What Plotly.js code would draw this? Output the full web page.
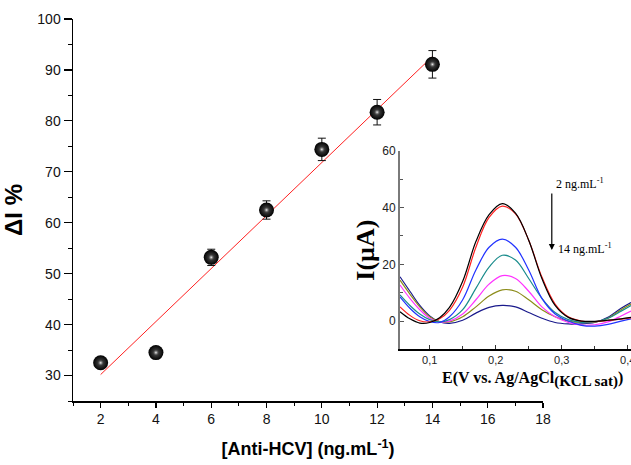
<!DOCTYPE html>
<html>
<head>
<meta charset="utf-8">
<script src="https://cdn.plot.ly/plotly-3.0.1.min.js"></script>
<style>html,body{margin:0;padding:0;background:#fff;}#chart{width:631px;height:465px;}</style>
</head>
<body>
<div id="chart"></div>
<script>
// Main calibration data
const concentration = [2, 4, 6, 8, 10, 12, 14];
const deltaI = [32.5, 34.5, 53.2, 62.5, 74.4, 81.7, 91.1];
const deltaIErr = [0.5, 0.5, 1.6, 1.8, 2.2, 2.5, 2.7];
const mainXTicks = [2, 4, 6, 8, 10, 12, 14, 16, 18];

// Inset DPV curves
const potential = [0.055, 0.07, 0.085, 0.1, 0.115, 0.13, 0.15, 0.17, 0.19, 0.21, 0.23, 0.25, 0.27, 0.29, 0.31, 0.33, 0.35, 0.37, 0.39, 0.405];
const curveBlack   = [3.3, 0.8, -0.7, -0.5, 1.2, 4.8, 14, 28, 37.5, 41.4, 38, 28.5, 15, 5.5, 1.3, 0, -0.1, 0.3, 0.8, 1.3];
const curveRed     = [5, 2, 0.1, -0.3, 0.8, 3.8, 12, 26, 36.5, 40.5, 37.8, 28.5, 15.5, 6, 1.5, 0, -0.2, 0.2, 0.7, 1.1];
const curveBlue    = [8.5, 4.5, 1.5, -0.2, -0.5, 1.5, 7.5, 18, 26, 28.9, 26, 18, 8, 2.5, 0, -1.5, -1.8, -1.2, 0, 0.8];
const curveTeal    = [9.2, 5.5, 2.5, 0.5, -0.3, 0.5, 4, 11.5, 19, 23.2, 21.5, 15, 8, 3, 0.5, -0.5, -0.3, 1, 3.5, 5.5];
const curveMagenta = [12.7, 8, 4, 1, -0.3, 0, 2.5, 7.5, 13, 16, 15, 10.5, 5, 1.5, -0.5, -1.4, -1.3, -0.3, 1.8, 3.5];
const curveOlive   = [14.4, 9.5, 5, 1.5, -0.2, -0.3, 1.5, 5, 8.8, 11, 10.5, 7.5, 4, 1.5, 0, -0.5, -0.4, 1, 4, 6];
const curveNavy    = [15.6, 10.5, 5.5, 1.8, -0.3, -0.8, 0.3, 2.8, 4.8, 5.5, 5, 3, 1, -0.5, -1, -1, -0.5, 1.3, 4.5, 6.5];
const insetXTicks = [0.1, 0.2, 0.3, 0.4];
const insetXTickText = ['0,1', '0,2', '0,3', '0,4'];
const insetYTicks = [0, 20, 40, 60];

// least-squares fit of the calibration points
const n = concentration.length;
const mx = concentration.reduce((a, b) => a + b, 0) / n;
const my = deltaI.reduce((a, b) => a + b, 0) / n;
let sxy = 0, sxx = 0;
for (let i = 0; i < n; i++) { sxy += (concentration[i] - mx) * (deltaI[i] - my); sxx += (concentration[i] - mx) ** 2; }
const slope = sxy / sxx, intercept = my - slope * mx;
const fitX = [concentration[0], concentration[n - 1]];
const fitY = fitX.map(x => intercept + slope * x);

const serif = 'Liberation Serif, Times New Roman, serif';
const sans = 'Liberation Sans, Arial, sans-serif';

const curves = [
  [curveNavy, '#1a1a8c'], [curveOlive, '#8c8c1a'], [curveMagenta, '#ff33ff'],
  [curveTeal, '#1a8c8c'], [curveBlue, '#2233ff'], [curveRed, '#ff2020'], [curveBlack, '#000000']
];

const traces = [
  {x: fitX, y: fitY, mode: 'lines', line: {color: '#ff2020', width: 1}, xaxis: 'x', yaxis: 'y', hoverinfo: 'skip'},
  {x: concentration, y: deltaI, mode: 'markers', xaxis: 'x', yaxis: 'y',
   error_y: {type: 'data', array: deltaIErr, visible: true, color: '#111', thickness: 1, width: 4},
   marker: {size: 15, color: '#000', gradient: {type: 'radial', color: '#555'}, line: {width: 0}}},
  {x: concentration, y: deltaI, mode: 'markers', xaxis: 'x', yaxis: 'y', hoverinfo: 'skip',
   marker: {size: 6, color: 'rgba(90,90,90,0)', gradient: {type: 'radial', color: '#f4f4f4'}, line: {width: 0}}}
];
curves.forEach(([vals, col]) => traces.push({
  x: potential, y: vals, mode: 'lines', line: {color: col, width: 1.2, shape: 'spline', smoothing: 1},
  xaxis: 'x2', yaxis: 'y2'
}));

const layout = {
  width: 631, height: 465,
  margin: {l: 73, r: 0, t: 19, b: 64},
  paper_bgcolor: '#fff', plot_bgcolor: 'rgba(0,0,0,0)',
  showlegend: false,
  xaxis: {
    domain: [0, 0.8423], range: [1, 18], tickvals: mainXTicks,
    showline: true, linecolor: '#000', linewidth: 1.5, zeroline: false, showgrid: false,
    ticks: 'outside', ticklen: 5, tickwidth: 1.2, tickcolor: '#000',
    minor: {dtick: 1, tick0: 0, ticks: 'outside', ticklen: 3, tickwidth: 1, tickcolor: '#000'},
    tickfont: {family: sans, size: 14, color: '#111'},
    title: {text: '<b>[Anti-HCV] (ng.mL<sup>-1</sup>)</b>', font: {family: sans, size: 18, color: '#000'}, standoff: 16}
  },
  yaxis: {
    domain: [0, 1], range: [25, 100], tick0: 0, dtick: 10,
    showline: true, linecolor: '#000', linewidth: 1.5, zeroline: false, showgrid: false,
    ticks: 'outside', ticklen: 8, tickwidth: 1.2, tickcolor: '#000',
    minor: {dtick: 5, tick0: 0, ticks: 'outside', ticklen: 4, tickwidth: 1, tickcolor: '#000'},
    tickfont: {family: sans, size: 14, color: '#111'},
    title: {text: '<b>ΔI %</b>', font: {family: sans, size: 24, color: '#000'}, standoff: 12}
  },
  xaxis2: {
    anchor: 'y2', domain: [0.586, 1], range: [0.055, 0.405],
    tickvals: insetXTicks, ticktext: insetXTickText, ticklabeloverflow: 'allow',
    showline: true, linecolor: '#000', linewidth: 1.5, zeroline: false, showgrid: false,
    ticks: 'inside', ticklen: 4, tickcolor: '#333',
    minor: {tickvals: [0.15, 0.25, 0.35], ticks: 'inside', ticklen: 3, tickcolor: '#333'},
    tickfont: {family: sans, size: 11, color: '#222'}
  },
  yaxis2: {
    anchor: 'x2', domain: [0.135, 0.655], range: [-10, 60],
    tickvals: insetYTicks,
    showline: true, linecolor: '#7a7a7a', linewidth: 2, zeroline: false, showgrid: false,
    ticks: 'inside', ticklen: 4, tickcolor: '#555',
    minor: {dtick: 10, tick0: 0, ticks: 'inside', ticklen: 3, tickcolor: '#555'},
    tickfont: {family: sans, size: 12, color: '#222'},
    title: {text: '<b>I(µA)</b>', font: {family: serif, size: 26, color: '#000'}, standoff: 0}
  },
  annotations: [
    {xref: 'paper', yref: 'paper', x: 0.823, y: 0.055, xanchor: 'center', yanchor: 'middle', showarrow: false,
     text: '<b>E(V vs. Ag/AgCl<sub><span style="font-size:15px">(KCL sat)</span></sub>)</b>',
     font: {family: serif, size: 16, color: '#000'}},
    {xref: 'x2', yref: 'y2', x: 0.285, y: 25, ax: 0.285, ay: 45.5, axref: 'x2', ayref: 'y2',
     text: '', showarrow: true, arrowhead: 2, arrowsize: 1, arrowwidth: 1.2, arrowcolor: '#000'},
    {xref: 'x2', yref: 'y2', x: 0.288, y: 48.5, xanchor: 'left', yanchor: 'middle', showarrow: false,
     text: '2 ng.mL<sup>-1</sup>', font: {family: serif, size: 12, color: '#000'}},
    {xref: 'x2', yref: 'y2', x: 0.292, y: 25.5, xanchor: 'left', yanchor: 'middle', showarrow: false,
     text: '14 ng.mL<sup>-1</sup>', font: {family: serif, size: 12, color: '#000'}}
  ]
};

Plotly.newPlot('chart', traces, layout, {displayModeBar: false, staticPlot: true});
</script>
</body>
</html>
